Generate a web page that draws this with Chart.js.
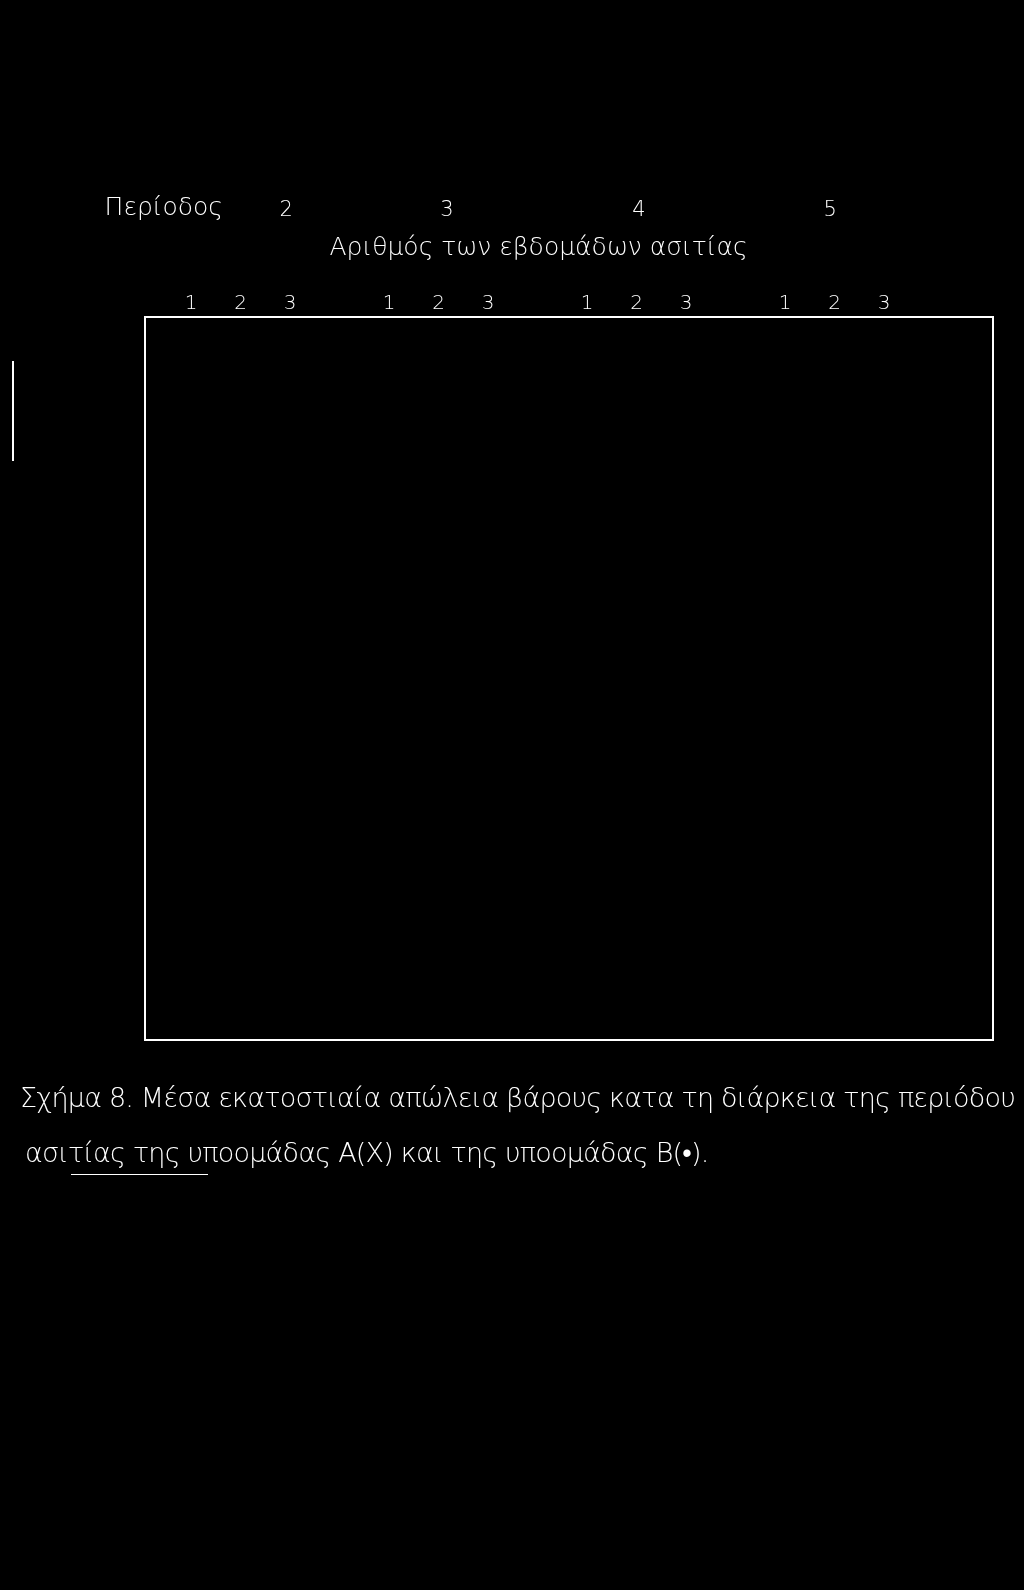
<!DOCTYPE html>
<html lang="el">
<head>
<meta charset="utf-8">
<title>Σχήμα 8</title>
<script src="https://cdn.jsdelivr.net/npm/chart.js@4.4.1/dist/chart.umd.min.js"></script>
<style>
  html, body { margin: 0; padding: 0; background: #000; }
  #wrap { position: relative; width: 1024px; height: 1590px; overflow: hidden; }
  #fig { position: absolute; left: 0; top: 0; }
  .cap { position: absolute; color: #fff; font-family: "DejaVu Sans", sans-serif; font-weight: 200; white-space: nowrap; letter-spacing: -0.8px; }
  .rule { position: absolute; background: #fff; }
</style>
</head>
<body>
<div id="wrap">
  <canvas id="fig" width="1024" height="1590"></canvas>
  <div class="rule" style="left:12px; top:361px; width:2px; height:100px;"></div>
  <div class="cap" id="cap1" style="left:20px; top:1082px; font-size:27px;">Σχήμα 8. Μέσα εκατοστιαία απώλεια βάρους κατα τη διάρκεια της περιόδου</div>
  <div class="cap" id="cap2" style="left:25px; top:1137px; font-size:27px;">ασιτίας της υποομάδας Α(Χ) και της υποομάδας Β(•).</div>
  <div class="rule" style="left:71px; top:1174px; width:137px; height:1px;"></div>
</div>
<script>
// periods and weeks of fasting (top axes)
const periods = ['2', '3', '4', '5'];
const weeks = ['1', '2', '3'];
const periodTitle = 'Περίοδος';
const axisTitle = 'Αριθμός των εβδομάδων ασιτίας';

// series: subgroup A (X) and subgroup B (•) -- no marks are visible in the scan
const seriesA = [];
const seriesB = [];

// layout of the top axes (in week units)
const periodSlot = 4;
const periodLabelAt = [2.92, 6.17, 10.05, 13.91];
const periodTitleAt = 0.45;
const axisTitleAt = 8.02;

const weekTicks = [];
periods.forEach((p, i) => {
    weeks.forEach((w, j) => {
        weekTicks.push({ value: i * periodSlot + j + 1, label: w });
    });
});
const periodTicks = [{ value: periodTitleAt, label: periodTitle }]
    .concat(periods.map((p, i) => ({ value: periodLabelAt[i], label: p })));

const white = '#fff';
const face = "'DejaVu Sans', sans-serif";

function topAxis(ticks, height, weight, font, pad) {
    return {
        type: 'linear',
        position: 'top',
        min: 0.07,
        max: 17.2,
        weight: weight,
        grid: { display: false, drawTicks: false },
        border: { display: false },
        afterBuildTicks: (axis) => { axis.ticks = ticks.map(t => ({ value: t.value })); },
        afterFit: (axis) => { axis.height = height; },
        ticks: {
            color: white,
            autoSkip: false,
            maxRotation: 0,
            padding: pad,
            font: font,
            callback: (v) => {
                const t = ticks.find(k => Math.abs(k.value - v) < 1e-6);
                return t ? t.label : '';
            }
        }
    };
}

function frameAxis(position) {
    const horizontal = position === 'top' || position === 'bottom';
    return {
        type: 'linear',
        position: position,
        min: 0,
        max: horizontal ? 17.2 : 1,
        display: true,
        grid: { display: false, drawTicks: false },
        border: { display: true, color: white, width: 2 },
        ticks: { display: false },
        afterFit: (axis) => {
            if (horizontal) axis.height = 0; else axis.width = 0;
        }
    };
}

const ctx = document.getElementById('fig');

const chart = new Chart(ctx, {
    type: 'scatter',
    data: {
        datasets: [
            {
                label: 'Α(Χ)',
                data: seriesA,
                xAxisID: 'x',
                yAxisID: 'y',
                pointStyle: 'crossRot',
                borderColor: white,
                backgroundColor: white
            }, {
                label: 'Β(•)',
                data: seriesB,
                xAxisID: 'x',
                yAxisID: 'y',
                pointStyle: 'circle',
                borderColor: white,
                backgroundColor: white
            }
        ]
    },
    options: {
        responsive: false,
        animation: false,
        devicePixelRatio: 1,
        layout: { padding: { left: 145, right: 31, top: 184, bottom: 550 } },
        plugins: {
            legend: { display: false },
            tooltip: { enabled: false }
        },
        scales: {
            x: Object.assign(topAxis(weekTicks, 51, 0, { family: face, size: 20, weight: 200 }, 1), {
                border: { display: true, color: white, width: 2 }
            }),
            xTitle: topAxis([{ value: axisTitleAt, label: axisTitle }], 40, 1,
                { family: face, size: 25, weight: 200 }, 3),
            xPeriod: topAxis(periodTicks, 42, 2,
                (c) => ({ family: face, size: c.index === 0 ? 25 : 21, weight: 200 }), 3),
            xb: frameAxis('bottom'),
            y: frameAxis('left'),
            yr: frameAxis('right')
        }
    }
});
</script>
</body>
</html>
